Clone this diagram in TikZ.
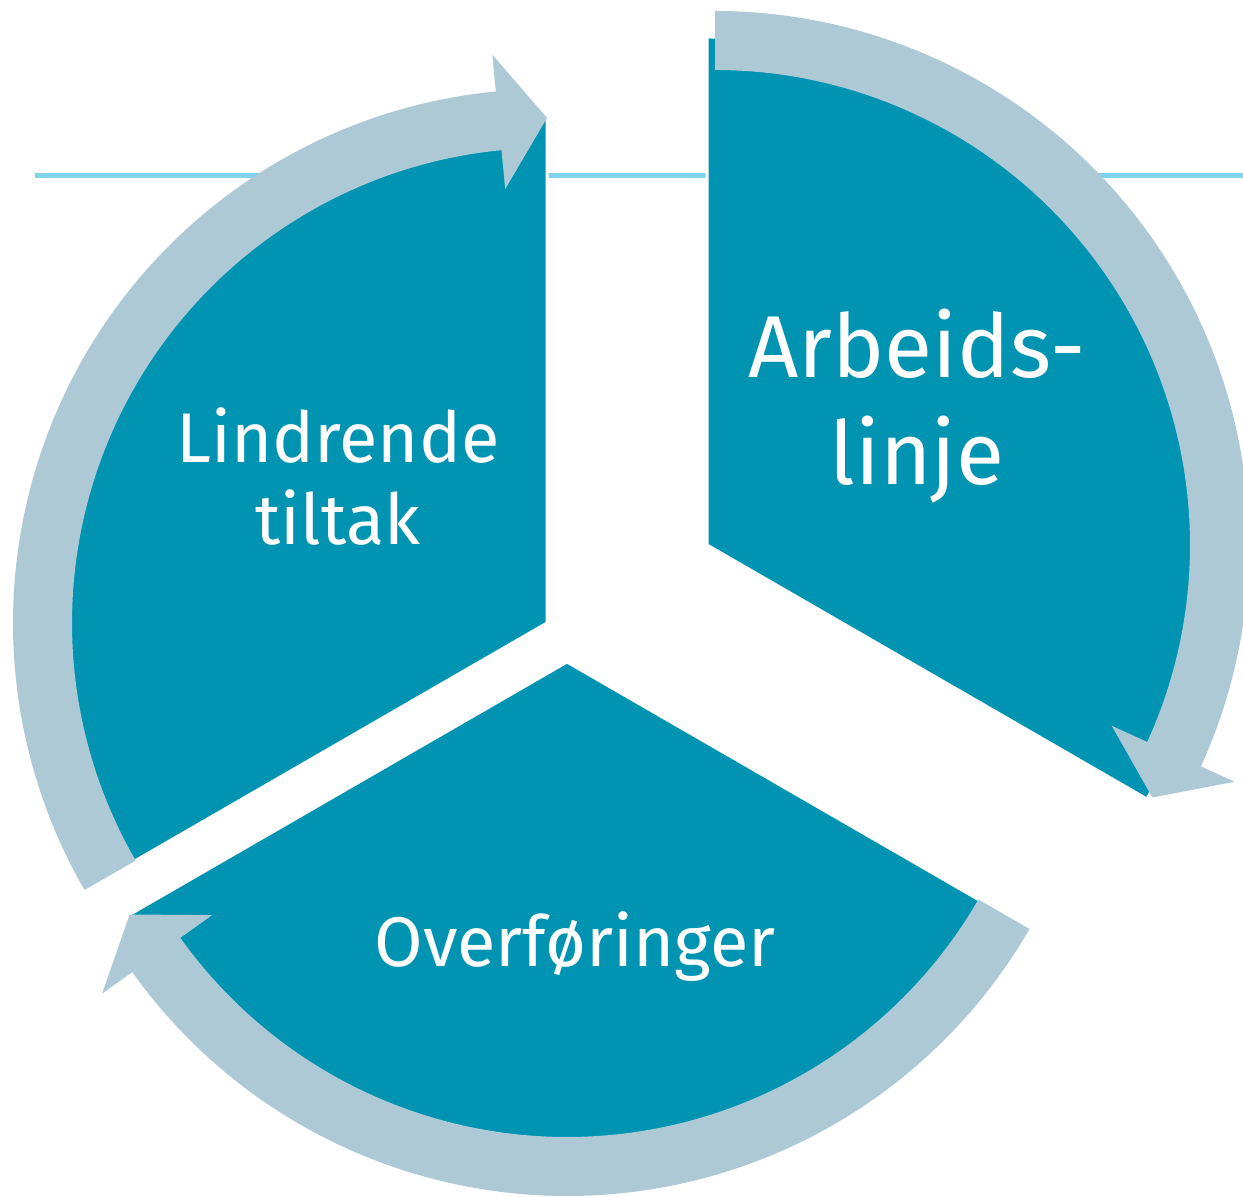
\documentclass[tikz,border=0pt]{standalone}
\usepackage{fontspec}
\setmainfont{Fira Sans}
\usetikzlibrary{calc}
\definecolor{teal}{rgb}{0.0, 0.58, 0.70}
\definecolor{grey}{rgb}{0.68, 0.79, 0.84}
\definecolor{cyan}{rgb}{0.50, 0.83, 0.92}
\newcommand{\cyclearrow}[3]{%
    \fill[grey] ($(#1)+(#2:475)$) -- ($(#1)+(#2:534)$) arc (#2:#3+5.5:534)
        -- ($(#1)+(#3+5.5:571)$) -- ($(#1)+(#3:505)$) -- ($(#1)+(#3+5.5:436)$)
        -- ($(#1)+(#3+5.5:475)$) arc (#3+5.5:#2:475) -- cycle;}

\begin{document}
\begin{tikzpicture}[x=0.02cm,y=0.02cm]
        \useasboundingbox (0,0) rectangle (1243,1196);
        \clip (0,0) rectangle (1243,1196);
        \coordinate (L)  at (547,573);
        \coordinate (A)  at (707,651);
        \coordinate (A2) at (715,651);
        \coordinate (O)  at (567,534);
        \coordinate (s)  at (35,1020.5);
        \coordinate (e)  at (1243,1020.5);
        \draw[cyan,line width=0.1cm] (s) -- (e);
        \path[fill=teal,draw=white,line width=0.06cm] (L) -- ++(90:508) arc (90:210:508) -- cycle;
        \path[fill=teal,draw=white,line width=0.06cm] (A) -- ++(90:508) arc (90:-30:508) -- cycle;
        \path[fill=teal,draw=white,line width=0.06cm] (O) -- ++(-30:508) arc (-30:-150:508) -- cycle;
        \cyclearrow{L}{210}{90}
        \cyclearrow{A2}{90}{-30}
        \cyclearrow{O}{-30}{-150}
        \node[white,anchor=base,align=center,font=\fontsize{40}{47}\selectfont] (lindrende) at (338,651) {Lindrende\\tiltak};
        \node[white,anchor=base,align=center,font=\fontsize{50}{61}\selectfont] (arbeid)    at (917,711) {Arbeids-\\linje};
        \node[white,anchor=base,font=\fontsize{40}{47}\selectfont]              (overf)     at (575,229) {Overføringer};
    \end{tikzpicture}
\end{document}
